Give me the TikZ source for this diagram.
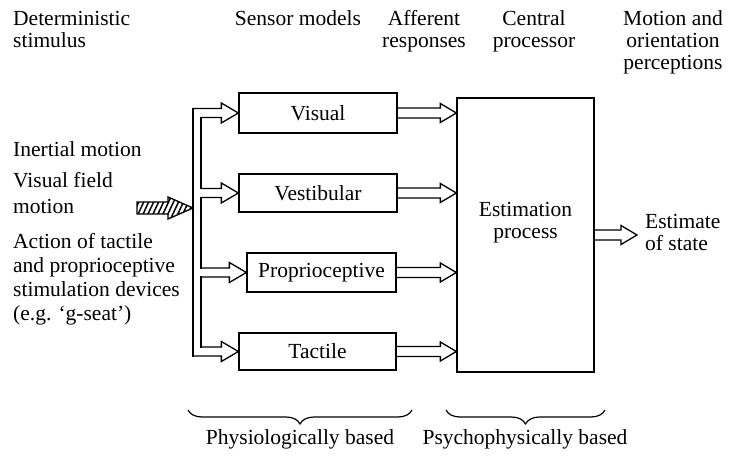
\documentclass[tikz,border=0pt]{standalone}
\usepackage{fontspec}
\setmainfont{Liberation Serif}
\usetikzlibrary{calc,patterns.meta,decorations.pathreplacing}
\begin{document}
\begin{tikzpicture}[x=1pt,y=-1pt,
  ln/.style={line width=1.3pt, line join=miter, line cap=rect},
  box/.style={draw, line width=1.3pt, inner sep=0pt, font=\fontsize{21.5}{24}\selectfont},
  txt/.style={inner sep=0pt, font=\fontsize{21.5}{22}\selectfont},
  txtb/.style={inner sep=0pt, font=\fontsize{21.5}{24}\selectfont},
  txtc/.style={inner sep=0pt, font=\fontsize{21.5}{26}\selectfont},
  harrow/.style={to path={let \p1=(\tikztostart), \p2=(\tikztotarget) in
     (\x1,\y2+6pt) -- (\x2-25pt,\y2+6pt) -- (\x2-25pt,\y2+11pt) -- (\x2,\y2)
     -- (\x2-25pt,\y2-11pt) -- (\x2-25pt,\y2-6pt) -- (\x1,\y2-6pt) -- cycle}},
  inarrow/.style 2 args={to path={let \p1=(\tikztotarget), \p2=(#1), \p3=(#2) in
     (\x2,\y1+4.5pt) -- (\x1-17pt,\y1+4.5pt) -- (\x1-17pt,\y1+10pt) -- (\x1,\y1)
     -- (\x1-17pt,\y1-10pt) -- (\x1-17pt,\y1-4.5pt) -- (\x3,\y1-4.5pt)}},
  outarrow/.style={to path={let \p1=(\tikztostart), \p2=(\tikztotarget) in
     (\x1,\y1+5pt) -- (\x2-16pt,\y1+5pt) -- (\x2-16pt,\y1+9.5pt) -- (\x2,\y1)
     -- (\x2-16pt,\y1-9.5pt) -- (\x2-16pt,\y1-5pt) -- (\x1,\y1-5pt)}},
  bracestyle/.style={line width=1.2pt, decorate, decoration={brace, mirror, amplitude=14pt}}
]
\path[use as bounding box, fill=white] (0,0) rectangle (731,457);

% sensor boxes and estimator
\node[box, minimum width=158pt, minimum height=40pt] (vis) at (318,113) {Visual};
\node[box, minimum width=158pt, minimum height=38pt] (ves) at (318,193) {Vestibular};
\node[box, minimum width=149pt, minimum height=39pt] (pro) at (321.5,272.5) {Proprioceptive};
\node[box, minimum width=157pt, minimum height=37pt] (tac) at (317.5,351.5) {Tactile};
\node[box, minimum width=137pt, minimum height=274pt] (est) at (525.5,235) {};
\node[txt, align=center, anchor=base] (estl) at (525.5,239) {Estimation\\process};

% bus coordinates
\coordinate (busO) at (193,208);
\coordinate (busI) at (201,208);
\coordinate (hsrc) at (137,208);
\coordinate (otip) at (637,235);

% hatched input arrow
\draw[ln, pattern={Lines[angle=65,distance=4.5pt,line width=1.5pt]}] (hsrc) to[harrow] (busO);

% bus lines
\draw[ln] let \p1=(vis.west), \p4=(tac.west), \p0=(busO) in (\x0,\y1+4.5pt) -- (\x0,\y4-4.5pt);
\draw[ln] let \p1=(vis.west), \p2=(ves.west), \p0=(busI) in (\x0,\y1-4.5pt) -- (\x0,\y2+4.5pt);
\draw[ln] let \p1=(ves.west), \p2=(pro.west), \p0=(busI) in (\x0,\y1-4.5pt) -- (\x0,\y2+4.5pt);
\draw[ln] let \p1=(pro.west), \p2=(tac.west), \p0=(busI) in (\x0,\y1-4.5pt) -- (\x0,\y2+4.5pt);

% arrows into sensor boxes
\draw[ln] (busO) to[inarrow={busO}{busI}] (vis.west);
\draw[ln] (busI) to[inarrow={busI}{busI}] (ves.west);
\draw[ln] (busI) to[inarrow={busI}{busI}] (pro.west);
\draw[ln] (busO) to[inarrow={busI}{busO}] (tac.west);

% afferent responses
\draw[ln] (vis.east) to[outarrow] (vis.east -| est.west);
\draw[ln] (ves.east) to[outarrow] (ves.east -| est.west);
\draw[ln] (pro.east) to[outarrow] (pro.east -| est.west);
\draw[ln] (tac.east) to[outarrow] (tac.east -| est.west);

% output
\draw[ln] (est.east) to[outarrow] (otip);

% headings (base anchor = baseline of last line)
\node[txt, anchor=base west, align=left] (det) at (13,48) {Deterministic\\stimulus};
\node[txt, anchor=base] (sen) at (298,26) {Sensor models};
\node[txt, anchor=base, align=center] (aff) at (424,48) {Afferent\\responses};
\node[txt, anchor=base, align=center] (cpu) at (534,48) {Central\\processor};
\node[txt, anchor=base, align=center] (mop) at (673,70) {Motion and\\orientation\\perceptions};

% left labels
\node[txt, anchor=base west] (inm) at (13,157) {Inertial motion};
\node[txtc, anchor=base west, align=left] (vfm) at (13,214) {Visual field\\motion};
\node[txtb, anchor=base west, align=left] (act) at (13,320) {Action of tactile\\and proprioceptive\\stimulation devices\\(e.g. ‘g-seat’)};

% output label
\node[txt, anchor=base west, align=left] (eos) at (645,251) {Estimate\\of state};

% braces
\coordinate (b1a) at (188,410);
\coordinate (b1b) at (412,410);
\coordinate (b2a) at (446,410);
\coordinate (b2b) at (605,410);
\draw[bracestyle] (b1a) -- (b1b);
\draw[bracestyle] (b2a) -- (b2b);
\node[txt, anchor=base] (phy) at (300,444) {Physiologically based};
\node[txt, anchor=base] (psy) at (525,444) {Psychophysically based};
\end{tikzpicture}
\end{document}
